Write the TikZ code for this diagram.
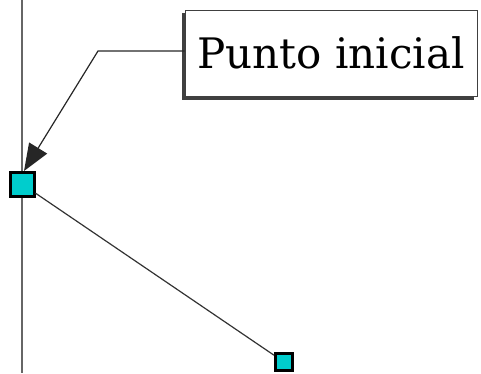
\documentclass[tikz,border=0pt]{standalone}
\usepackage{fontspec}
\setmainfont{DejaVu Serif}
\usetikzlibrary{arrows.meta}
\definecolor{handlefill}{RGB}{0,205,205}
\begin{document}
\begin{tikzpicture}[x=1pt,y=-1pt,
  handle/.style={draw=black,line width=3pt,fill=handlefill,minimum size=24pt,inner sep=0pt},
  callout/.style={draw=black!75,line width=1pt,fill=white,inner sep=0pt,
    font=\fontsize{42}{50}\selectfont},
  guide/.style={draw=black!60,line width=2pt},
  segment/.style={draw=black!80,line width=1.2pt},
  leader/.style={draw=black!85,line width=1.2pt,-{Triangle[length=27pt,width=21pt]}}]
\useasboundingbox (0,0) rectangle (481,373);
% vertical guide line
\coordinate (gtop) at (22,0);
\coordinate (gbot) at (22,373);
\draw[guide] (gtop) -- (gbot);
% drag handles
\node[handle] (p1) at (22,184) {};
\node[handle,minimum size=17pt] (p2) at (284,362) {};
\draw[segment] (p1) -- (p2);
% callout with drop shadow toward the lower left
\fill[black!75] (182,13) rectangle (474,100);
\node[callout,minimum width=292pt,minimum height=86pt] (lab) at (331,53) {Punto inicial};
\coordinate (bend) at (98,51);
\coordinate (tip) at (24,171);
\draw[leader] (lab.west |- bend) -- (bend) -- (tip);
\end{tikzpicture}
\end{document}
